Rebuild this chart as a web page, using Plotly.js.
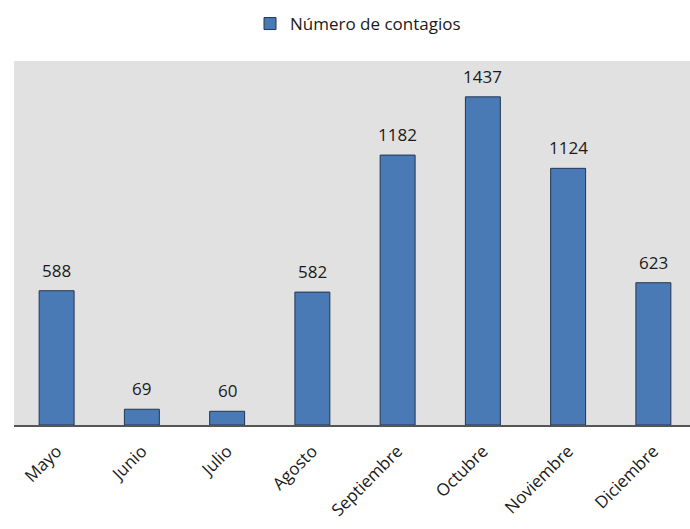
<!DOCTYPE html>
<html>
<head>
<meta charset="utf-8">
<script src="https://cdn.plot.ly/plotly-3.0.1.min.js"></script>
<style>
html,body{margin:0;padding:0;overflow:hidden;background:#fff;}
#chart{width:696px;height:529px;}
</style>
</head>
<body>
<div id="chart"></div>
<script>
const months = ["Mayo","Junio","Julio","Agosto","Septiembre","Octubre","Noviembre","Diciembre"];
const contagios = [588, 69, 60, 582, 1182, 1437, 1124, 623];
const seriesName = "Número de contagios";

const FONT = "Open Sans, Noto Sans, sans-serif";

const trace = {
  type: "bar",
  x: months,
  y: contagios,
  name: seriesName,
  marker: {color: "#4a7ab5", line: {color: "#22364f", width: 1}},
  showlegend: true
};

const labels = months.map((m, i) => ({
  x: m, y: contagios[i], xref: "x", yref: "y",
  text: String(contagios[i]),
  showarrow: false, yanchor: "bottom", yshift: 7,
  font: {family: FONT, size: 17, color: "#1a1a1a"}
}));

const layout = {
  width: 696,
  height: 529,
  margin: {l: 14, r: 0, t: 61, b: 104},
  paper_bgcolor: "#ffffff",
  plot_bgcolor: "#e1e1e1",
  bargap: 0.59,
  font: {family: FONT, color: "#1a1a1a"},
  showlegend: true,
  legend: {
    orientation: "h",
    xref: "container", yref: "container",
    x: 250/696, xanchor: "left",
    y: 1 - 6/529, yanchor: "top",
    font: {family: FONT, size: 17, color: "#1a1a1a"},
    bgcolor: "rgba(0,0,0,0)"
  },
  annotations: labels,
  xaxis: {
    type: "category",
    tickangle: -45,
    tickfont: {family: FONT, size: 17, color: "#1a1a1a"},
    showline: true, linecolor: "#555555", linewidth: 1.5,
    ticks: "", showgrid: false, zeroline: false,
    ticklabelstandoff: 8
  },
  yaxis: {
    range: [0, 1594],
    visible: false,
    showgrid: false, zeroline: false, fixedrange: true
  }
};

Plotly.newPlot("chart", [trace], layout, {displayModeBar: false, staticPlot: true});
</script>
</body>
</html>
